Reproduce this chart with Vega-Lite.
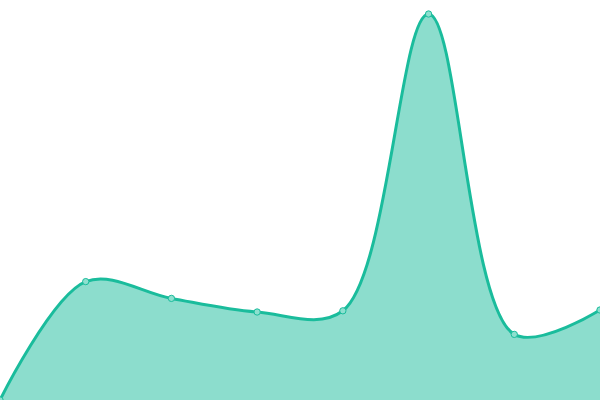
{
  "$schema": "https://vega.github.io/schema/vega-lite/v6.json",
  "width": 600,
  "height": 400,
  "padding": 0,
  "autosize": {"type": "fit", "contains": "padding"},
  "background": "white",
  "data": {
    "values": [
      {"i": 0, "v": 0},
      {"i": 1, "v": 29.6},
      {"i": 2, "v": 25.4},
      {"i": 3, "v": 22},
      {"i": 4, "v": 22.3},
      {"i": 5, "v": 96.5},
      {"i": 6, "v": 16.4},
      {"i": 7, "v": 22.5}
    ]
  },
  "encoding": {
    "x": {"field": "i", "type": "quantitative", "scale": {"domain": [0, 7], "nice": false, "zero": false}, "axis": null},
    "y": {"field": "v", "type": "quantitative", "scale": {"domain": [0, 100], "nice": false}, "axis": null}
  },
  "layer": [
    {
      "mark": {"type": "area", "interpolate": "catmull-rom", "color": "#1abc9c", "opacity": 0.5, "clip": true}
    },
    {
      "mark": {"type": "line", "interpolate": "catmull-rom", "color": "#1abc9c", "strokeWidth": 3, "clip": true}
    },
    {
      "mark": {"type": "point", "filled": true, "size": 40, "fill": "#8de0cf", "stroke": "#1abc9c", "strokeWidth": 1, "opacity": 1, "clip": true}
    }
  ],
  "config": {"view": {"stroke": null}}
}
